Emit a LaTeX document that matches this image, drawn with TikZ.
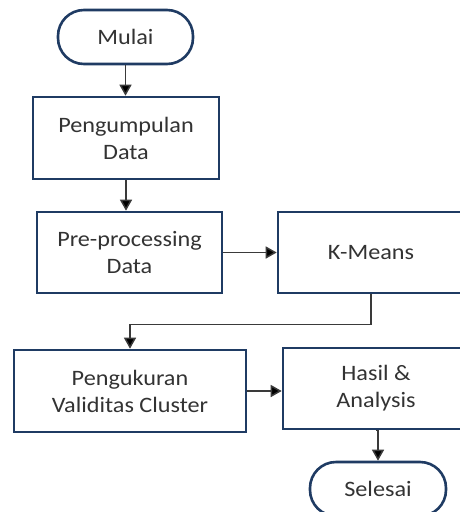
\documentclass[tikz,border=0pt]{standalone}
\usepackage{fontspec}
\setmainfont{Carlito}[FakeStretch=1.1]
\usepackage{tikz}
\usetikzlibrary{positioning, arrows.meta, calc}

\definecolor{boxline}{HTML}{1F3B63}
\definecolor{boxtext}{HTML}{333333}
\definecolor{flowline}{HTML}{3A3A3A}

\tikzset{
    process/.style={draw=boxline, line width=2.6pt, fill=white, rectangle,
        align=center, text=boxtext, inner sep=0pt,
        font=\fontsize{22}{27}\selectfont},
    terminal/.style={process, rounded corners=26pt},
    flow/.style={draw=flowline, line width=1.5pt,
        -{Triangle[length=11pt,width=12pt,fill=black]}}
}

\begin{document}
\begin{tikzpicture}[x=1pt, y=-1pt]
    \useasboundingbox (0,0) rectangle (459,512);

    % start / end
    \node[terminal, minimum width=135pt, minimum height=54pt] (mulai) at (125.5,37) {Mulai};
    \node[terminal, minimum width=136pt, minimum height=54pt] (selesai) at (378,489) {Selesai};

    % process steps
    \node[process, minimum width=186pt, minimum height=82pt] (kumpul) at (126,138) {Pengumpulan\\Data};
    \node[process, minimum width=185pt, minimum height=81pt] (prepro) at (129.5,252.5) {Pre-processing\\Data};
    \node[process, minimum width=186pt, minimum height=81pt] (kmeans) at (371,252.5) {K-Means};
    \node[process, minimum width=232pt, minimum height=82pt] (validitas) at (130,391) {Pengukuran\\Validitas Cluster};
    \node[process, minimum width=186pt, minimum height=81pt] (hasil) at (376,388.5) {Hasil \&\\Analysis};

    % connectors
    \draw[flow] (mulai.south) -- (mulai.south |- kumpul.north);
    \draw[flow] (kumpul.south) -- (kumpul.south |- prepro.north);
    \draw[flow] (prepro.east) -- (prepro.east -| kmeans.west);
    \draw[flow] (kmeans.south) -- ++(0,30) -| (validitas.north);
    \draw[flow] (validitas.east) -- (validitas.east -| hasil.west);
    \draw[flow] (hasil.south) -- (hasil.south -| selesai.north) -- (selesai.north);
\end{tikzpicture}
\end{document}
